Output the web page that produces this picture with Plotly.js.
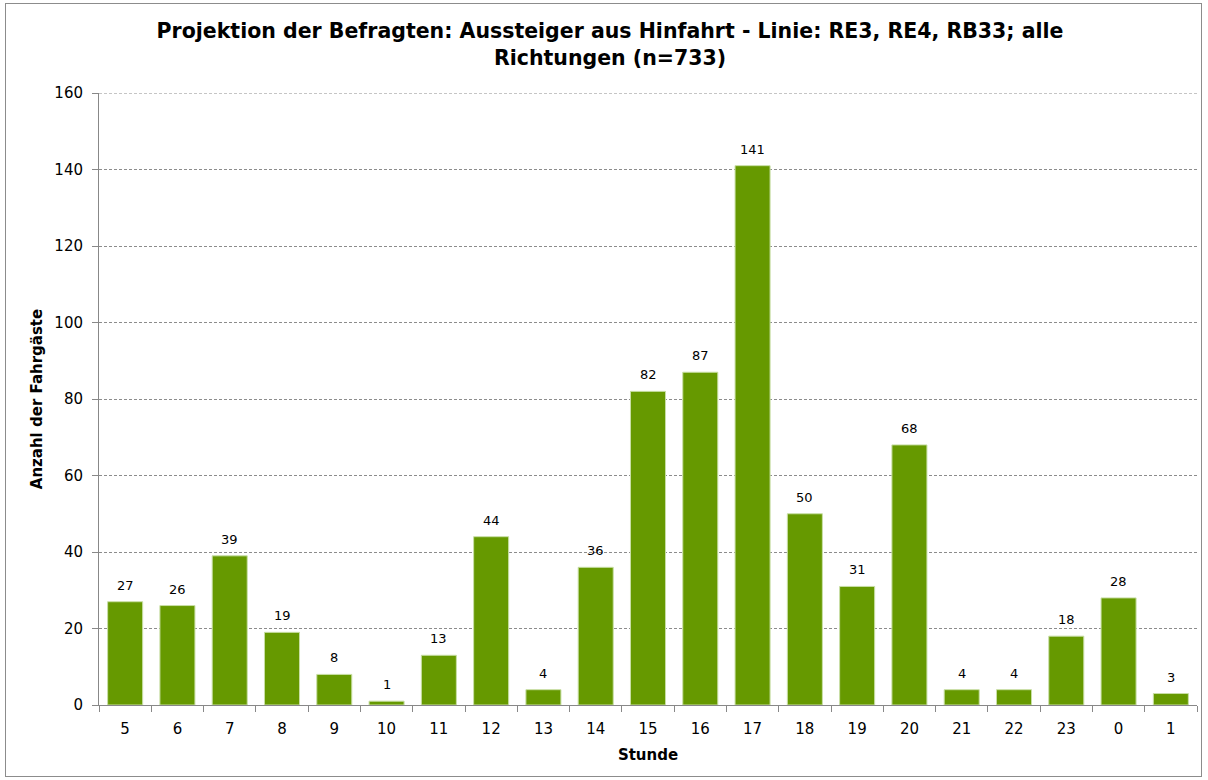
<!DOCTYPE html>
<html>
<head>
<meta charset="utf-8">
<script src="https://cdn.plot.ly/plotly-3.0.1.min.js"></script>
<style>
html,body{margin:0;padding:0;background:#fff;}
#frame{position:absolute;left:5px;top:3px;width:1197px;height:774px;border:1px solid #8c8c8c;box-sizing:border-box;}
#chart{position:absolute;left:0;top:0;width:1208px;height:780px;}
</style>
</head>
<body>
<div id="frame"></div>
<div id="chart"></div>
<script>
var hours = ["5","6","7","8","9","10","11","12","13","14","15","16","17","18","19","20","21","22","23","0","1"];
var counts = [27,26,39,19,8,1,13,44,4,36,82,87,141,50,31,68,4,4,18,28,3];
var yTicks = [0,20,40,60,80,100,120,140,160];

var font = "Tahoma, 'DejaVu Sans', Verdana, sans-serif";

var trace = {
  type: "bar",
  x: hours,
  y: counts,
  marker: {color: "#669900", line: {color: "#c9dfa6", width: 1}},
  hoverinfo: "x+y"
};

var labels = hours.map(function (h, i) {
  return {
    x: i, y: counts[i], xref: "x", yref: "y",
    text: String(counts[i]), showarrow: false,
    yanchor: "bottom", yshift: 7,
    font: {family: font, size: 13, color: "#000"}
  };
});

var layout = {
  width: 1208, height: 780,
  paper_bgcolor: "rgba(0,0,0,0)",
  plot_bgcolor: "rgba(0,0,0,0)",
  margin: {l: 99, r: 11, t: 93, b: 75},
  bargap: 0.33,
  showlegend: false,
  title: {
    text: "<b>Projektion der Befragten: Aussteiger aus Hinfahrt - Linie: RE3, RE4, RB33; alle<br>Richtungen (n=733)</b>",
    font: {family: font, size: 20.5, color: "#000"},
    x: 0.505, xanchor: "center", yref: "container", y: 0.951, yanchor: "top"
  },
  annotations: labels,
  shapes: [{
    type: "line", xref: "paper", yref: "y", x0: 0, x1: 1, y0: 160, y1: 160,
    line: {color: "#8c8c8c", width: 1, dash: "3px,2px"}
  }],
  xaxis: {
    type: "category",
    categoryorder: "array",
    categoryarray: hours,
    tickson: "boundaries",
    ticks: "outside", ticklen: 6, tickcolor: "#888",
    ticklabelstandoff: 10,
    showline: true, linecolor: "#888", linewidth: 1,
    showgrid: false,
    tickfont: {family: font, size: 15, color: "#000"},
    title: {text: "<b>Stunde</b>", font: {family: font, size: 15, color: "#000"}, standoff: 12}
  },
  yaxis: {
    range: [0, 160],
    tickvals: yTicks,
    ticks: "outside", ticklen: 6, tickcolor: "#888",
    ticklabelstandoff: 6,
    showline: true, linecolor: "#888", linewidth: 1,
    showgrid: true, gridcolor: "#8c8c8c", griddash: "3px,2px", gridwidth: 1,
    zeroline: false,
    tickfont: {family: font, size: 15, color: "#000"},
    title: {text: "<b>Anzahl der Fahrgäste</b>", font: {family: font, size: 15, color: "#000"}, standoff: 8}
  }
};

Plotly.newPlot("chart", [trace], layout, {displayModeBar: false, staticPlot: true});
</script>
</body>
</html>
